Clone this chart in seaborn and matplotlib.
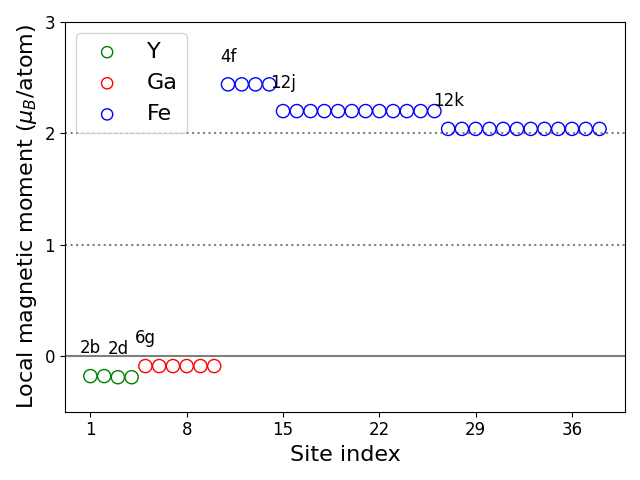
import matplotlib
matplotlib.use("Agg")
import matplotlib.pyplot as plt
import seaborn as sns
import pandas as pd

y_sites = [1, 2, 3, 4]
y_vals = [-0.18, -0.18, -0.19, -0.19]
ga_sites = [5, 6, 7, 8, 9, 10]
ga_vals = [-0.09, -0.09, -0.09, -0.09, -0.09, -0.09]
fe_sites = list(range(11, 39))
fe_vals = [2.44] * 4 + [2.20] * 12 + [2.04] * 12

labels_text = ["2b", "2d", "6g", "4f", "12j", "12k"]
labels_site = [1, 3, 5, 11, 15, 27]
labels_val = [-0.18, -0.19, -0.09, 2.44, 2.20, 2.04]

fig, ax = plt.subplots(figsize=(6.4, 4.8), dpi=100)
ax.axhline(0, color="gray", lw=1.5)
ax.axhline(1, color="gray", ls=":", lw=1.5)
ax.axhline(2, color="gray", ls=":", lw=1.5)

for sites, vals, c, name in [(y_sites, y_vals, "green", "Y"),
                             (ga_sites, ga_vals, "red", "Ga"),
                             (fe_sites, fe_vals, "blue", "Fe")]:
    df = pd.DataFrame({"site": sites, "m": vals})
    sns.scatterplot(data=df, x="site", y="m", ax=ax, s=90, marker="o",
                    facecolors="none", edgecolors=c, linewidth=1, label=name, zorder=3)

for t, s, v in zip(labels_text, labels_site, labels_val):
    ax.text(s, v + 0.25, t, ha="center", va="center", fontsize=12)

ax.set_ylim(-0.5, 3)
ax.set_yticks([0, 1, 2, 3])
ax.set_xticks([1, 8, 15, 22, 29, 36])
ax.tick_params(labelsize=12)
ax.set_xlabel("Site index", fontsize=16)
ax.set_ylabel(r"Local magnetic moment ($\mu_B$/atom)", fontsize=16)
ax.legend(loc="upper left", fontsize=16, markerscale=0.85)
fig.tight_layout()
fig.savefig("out.png")
